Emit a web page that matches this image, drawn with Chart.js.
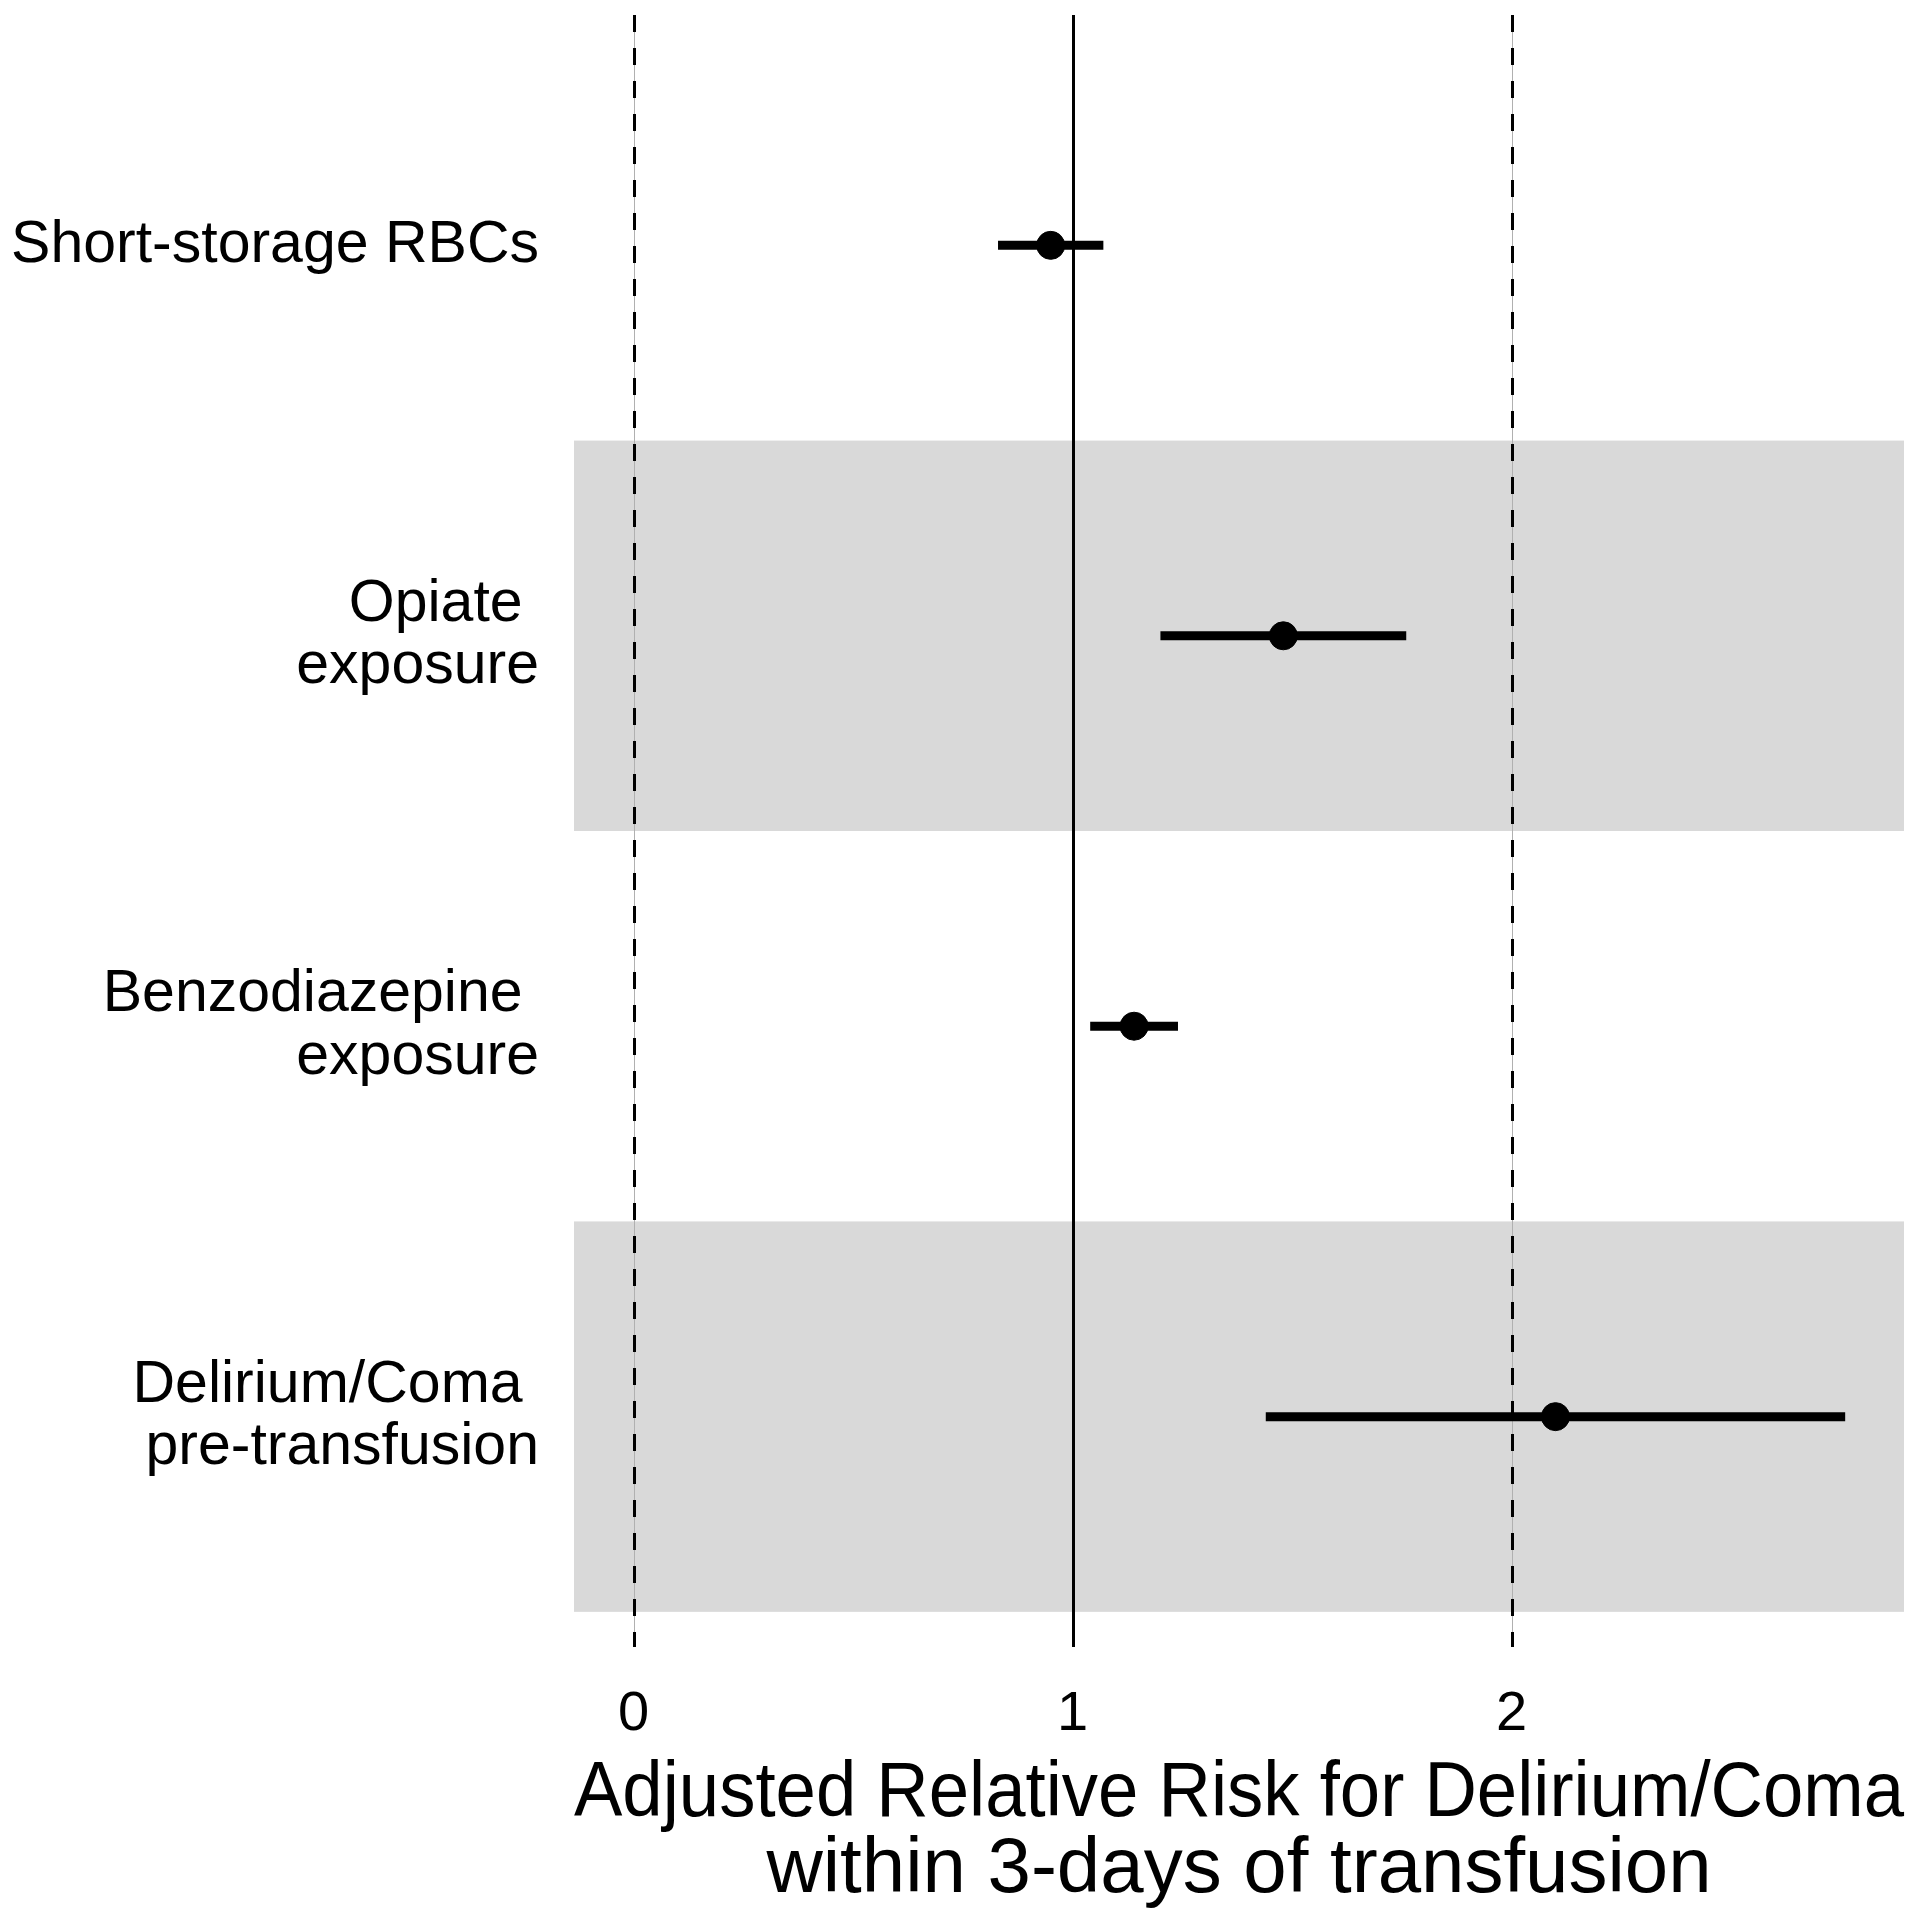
<!DOCTYPE html>
<html>
<head>
<meta charset="utf-8">
<script src="https://cdn.jsdelivr.net/npm/chart.js@4"></script>
<style>
  html, body { margin: 0; padding: 0; background: #fff; }
  #wrap { width: 1919px; height: 1920px; }
</style>
</head>
<body>
<div id="wrap"><canvas id="myChart" width="1919" height="1920"></canvas></div>
<script>
'use strict';

// rows top to bottom
let categories = ['Short-storage RBCs', ['Opiate ', 'exposure'], ['Benzodiazepine ', 'exposure'], ['Delirium/Coma ', 'pre-transfusion']];
let estimates = [0.95, 1.48, 1.14, 2.10];
let lowerCI = [0.83, 1.20, 1.04, 1.44];
let upperCI = [1.07, 1.76, 1.24, 2.76];
let xTicks = [0, 1, 2];
let shadedRows = [2, 4];
let dashedRefs = [0, 2];
let solidRefs = [1];
let xTitle = ['Adjusted Relative Risk for Delirium/Coma', 'within 3-days of transfusion'];

let fontFamily = '"Liberation Sans", Arial, Helvetica, sans-serif';

let ciPoints = [];
let estPoints = [];
for (let i = 0; i < categories.length; i++) {
  ciPoints.push({x: lowerCI[i], y: i + 1});
  ciPoints.push({x: upperCI[i], y: i + 1});
  ciPoints.push({x: null, y: null});
  estPoints.push({x: estimates[i], y: i + 1});
}

// grey bands behind every other row, plus the reference lines
let bandPlugin = {
  id: 'bands',
  beforeDatasetsDraw(chart) {
    let ctx = chart.ctx;
    let area = chart.chartArea;
    let y = chart.scales.y;
    ctx.save();
    ctx.fillStyle = '#d9d9d9';
    shadedRows.forEach(function(r) {
      let top = y.getPixelForValue(r - 0.5);
      let bottom = y.getPixelForValue(r + 0.5);
      ctx.fillRect(area.left, top, area.right - area.left, bottom - top);
    });
    dashedRefs.forEach(function(v) {
      let px = Math.round(chart.scales.x.getPixelForValue(v)) + 0.5;
      ctx.strokeStyle = '#b0b0b0';
      ctx.lineWidth = 1;
      ctx.beginPath();
      ctx.moveTo(px, area.top);
      ctx.lineTo(px, area.bottom);
      ctx.stroke();
      ctx.strokeStyle = '#000';
      ctx.lineWidth = 3;
      ctx.setLineDash([17, 16]);
      ctx.beginPath();
      ctx.moveTo(px, area.top);
      ctx.lineTo(px, area.bottom);
      ctx.stroke();
      ctx.setLineDash([]);
    });
    solidRefs.forEach(function(v) {
      let px = Math.round(chart.scales.x.getPixelForValue(v)) + 0.5;
      ctx.strokeStyle = '#000';
      ctx.lineWidth = 3;
      ctx.beginPath();
      ctx.moveTo(px, area.top);
      ctx.lineTo(px, area.bottom);
      ctx.stroke();
    });
    ctx.restore();
  }
};

let ctx = document.getElementById('myChart').getContext('2d');
new Chart(ctx, {
  type: 'scatter',
  data: {
    datasets: [{
      type: 'line',
      data: ciPoints,
      borderColor: '#000',
      borderWidth: 9,
      borderCapStyle: 'butt',
      pointRadius: 0,
      spanGaps: false,
      showLine: true
    }, {
      data: estPoints,
      backgroundColor: '#000',
      borderColor: '#000',
      pointRadius: 14,
      pointHoverRadius: 14
    }]
  },
  options: {
    responsive: false,
    animation: false,
    layout: {padding: {top: 10, right: 10, left: 0, bottom: 0}},
    plugins: {
      legend: {display: false},
      tooltip: {enabled: false}
    },
    scales: {
      x: {
        type: 'linear',
        min: -0.136,
        max: 2.894,
        afterBuildTicks: function(scale) {
          scale.ticks = xTicks.map(function(v) { return {value: v}; });
        },
        afterFit: function(scale) {
          scale.height = 273;
          scale.paddingLeft = 0;
          scale.paddingRight = 0;
        },
        grid: {display: false, drawTicks: false},
        border: {display: false},
        ticks: {
          color: '#000',
          padding: 34,
          font: {family: fontFamily, size: 56}
        },
        title: {
          display: true,
          text: xTitle,
          color: '#000',
          font: {family: fontFamily, size: 78, lineHeight: 0.97},
          padding: {top: 0, bottom: 12}
        }
      },
      y: {
        type: 'linear',
        reverse: true,
        min: 0.41,
        max: 4.59,
        afterBuildTicks: function(scale) {
          scale.ticks = categories.map(function(c, i) { return {value: i + 1}; });
        },
        afterFit: function(scale) {
          scale.width = 574;
          scale.paddingTop = 0;
          scale.paddingBottom = 0;
        },
        grid: {display: false, drawTicks: false},
        border: {display: false},
        ticks: {
          color: '#000',
          padding: 35,
          font: {family: fontFamily, size: 59, lineHeight: 1.06},
          callback: function(value) {
            return categories[value - 1];
          }
        }
      }
    }
  },
  plugins: [bandPlugin]
});
</script>
</body>
</html>
